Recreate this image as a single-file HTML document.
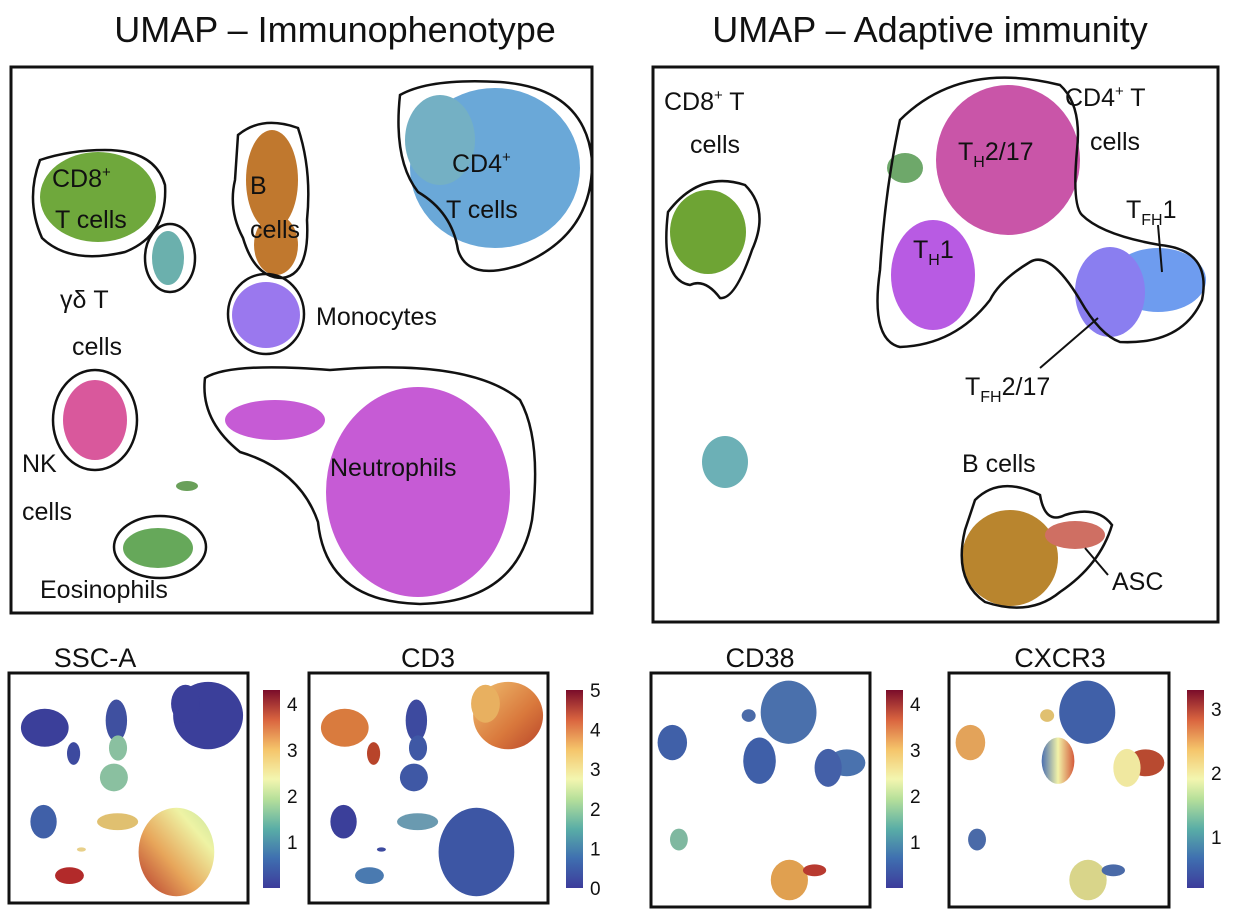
<!DOCTYPE html>
<html><head><meta charset="utf-8"><style>
body{margin:0;background:#fff;width:1246px;height:918px;overflow:hidden;font-family:"Liberation Sans",sans-serif}
svg text{font-family:"Liberation Sans",sans-serif;fill:#111}
</style></head><body>
<svg id="fig" width="1246" height="918" viewBox="0 0 1246 918">
<defs>
<linearGradient id="spec" x1="0" y1="1" x2="0" y2="0">
<stop offset="0" stop-color="#3d3c9b"/><stop offset="0.15" stop-color="#3f6fb0"/><stop offset="0.3" stop-color="#5aaea6"/>
<stop offset="0.45" stop-color="#b7e09a"/><stop offset="0.55" stop-color="#f3f6b0"/><stop offset="0.7" stop-color="#f5c46a"/>
<stop offset="0.85" stop-color="#d9643f"/><stop offset="1" stop-color="#7a0d2a"/></linearGradient>
<linearGradient id="neuSSC" x1="0" y1="1" x2="1" y2="0"><stop offset="0" stop-color="#b4362c"/><stop offset="0.4" stop-color="#e7a55a"/><stop offset="0.75" stop-color="#eef3a4"/><stop offset="1" stop-color="#c5e29c"/></linearGradient>
<linearGradient id="cd4CD3" x1="0" y1="0" x2="1" y2="1"><stop offset="0" stop-color="#f0c070"/><stop offset="0.6" stop-color="#d9783c"/><stop offset="1" stop-color="#b8442a"/></linearGradient>
<linearGradient id="cxcrG" x1="0" y1="0" x2="1" y2="0"><stop offset="0" stop-color="#4b6fb0"/><stop offset="0.5" stop-color="#f2f2a8"/><stop offset="1" stop-color="#d45a3a"/></linearGradient>
</defs>

<text x="335" y="42" font-size="36" text-anchor="middle">UMAP – Immunophenotype</text>
<text x="930" y="42" font-size="36" text-anchor="middle">UMAP – Adaptive immunity</text>

<rect x="11" y="67" width="581" height="546" fill="#fff" stroke="#111" stroke-width="3"/>
<rect x="653" y="67" width="565" height="555" fill="#fff" stroke="#111" stroke-width="3"/>

<g id="bottom">
<rect x="9" y="673" width="239" height="230" fill="#fff" stroke="#111" stroke-width="3"/>
<rect x="309" y="673" width="239" height="230" fill="#fff" stroke="#111" stroke-width="3"/>
<rect x="651" y="673" width="219" height="234" fill="#fff" stroke="#111" stroke-width="3"/>
<rect x="949" y="673" width="220" height="234" fill="#fff" stroke="#111" stroke-width="3"/>
<text x="95" y="667" font-size="27" text-anchor="middle">SSC-A</text>
<text x="428" y="667" font-size="27" text-anchor="middle">CD3</text>
<text x="760" y="667" font-size="27" text-anchor="middle">CD38</text>
<text x="1060" y="667" font-size="27" text-anchor="middle">CXCR3</text>
</g>

<g id="dots"></g>

<g id="outlines" fill="none" stroke="#111" stroke-width="2.5">
<path d="M40 160 Q70 150 105 150 Q155 150 165 185 Q168 235 125 252 Q70 265 42 238 Q25 200 40 160Z"/>
<ellipse cx="170" cy="258" rx="25" ry="34"/>
<path d="M238 135 Q262 115 298 128 Q312 170 307 220 Q310 275 282 278 Q255 278 243 238 Q228 210 235 180Z"/>
<ellipse cx="266" cy="314" rx="38" ry="40"/>
<path d="M400 95 Q430 78 500 82 Q585 88 592 160 Q594 235 520 265 Q468 282 458 250 Q452 212 418 192 Q393 160 400 95Z"/>
<ellipse cx="95" cy="420" rx="42" ry="50"/>
<path d="M205 378 Q230 362 330 370 Q470 358 520 400 Q542 440 532 520 Q517 602 420 604 Q326 602 318 522 Q300 470 240 452 Q200 420 205 378Z"/>
<ellipse cx="160" cy="547" rx="46" ry="31"/>
<path d="M668 212 Q700 170 745 185 Q770 210 752 250 Q735 300 720 298 Q705 278 690 285 Q660 280 668 212Z"/>
<path d="M900 120 Q960 60 1060 85 Q1082 105 1077 150 Q1072 205 1082 215 Q1102 235 1160 245 Q1212 250 1202 300 Q1182 345 1120 342 Q1100 335 1080 300 Q1050 250 1030 262 Q1000 280 990 300 Q955 345 900 347 Q870 340 880 270 Q885 190 900 120Z"/>
<path d="M975 500 Q1000 475 1040 495 Q1045 525 1065 515 Q1097 505 1112 525 Q1100 565 1060 592 Q1030 617 985 602 Q953 580 965 530Z"/>
</g>

<g id="labels" font-size="25">
<text x="52" y="187">CD8<tspan font-size="15" dy="-10">+</tspan></text>
<text x="55" y="228">T cells</text>
<text x="60" y="308">γδ T</text>
<text x="72" y="355">cells</text>
<text x="250" y="194">B</text>
<text x="250" y="238">cells</text>
<text x="316" y="325">Monocytes</text>
<text x="452" y="172">CD4<tspan font-size="15" dy="-10">+</tspan></text>
<text x="446" y="218">T cells</text>
<text x="22" y="472">NK</text>
<text x="22" y="520">cells</text>
<text x="330" y="476">Neutrophils</text>
<text x="40" y="598">Eosinophils</text>
<text x="664" y="110">CD8<tspan font-size="15" dy="-10">+</tspan><tspan dy="10"> T</tspan></text>
<text x="690" y="153">cells</text>
<text x="1065" y="106">CD4<tspan font-size="15" dy="-10">+</tspan><tspan dy="10"> T</tspan></text>
<text x="1090" y="150">cells</text>
<text x="958" y="160">T<tspan font-size="16" dy="7">H</tspan><tspan dy="-7">2/17</tspan></text>
<text x="913" y="258">T<tspan font-size="16" dy="7">H</tspan><tspan dy="-7">1</tspan></text>
<text x="1126" y="218">T<tspan font-size="16" dy="7">FH</tspan><tspan dy="-7">1</tspan></text>
<text x="965" y="395">T<tspan font-size="16" dy="7">FH</tspan><tspan dy="-7">2/17</tspan></text>
<text x="962" y="472">B cells</text>
<text x="1112" y="590">ASC</text>
<path d="M1158 225 L1162 272 M1040 368 L1098 318 M1085 548 L1108 575" stroke="#111" stroke-width="2" fill="none"/>
</g>
<g id="bars"></g>
</svg>
<script>
// cluster shapes (components) in panel coordinates and feature-panel palettes
const leftClusters = ["cd8","gd","b","b2","mono","cd4","cd4b","nk","neu","neuTail","eos","small"];
const leftCx = [98,168,272,276,266,495,440,95,418,275,158,187];
const leftCy = [197,258,180,245,315,168,140,420,492,420,548,486];
const leftRx = [58,16,26,22,34,85,35,32,92,50,35,11];
const leftRy = [45,27,50,30,33,80,45,40,105,20,20,5];
const leftColor = ["#6fa83c","#6bb0ad","#c0782e","#c0782e","#9a78ee","#6aa8d8","#74b0c4","#d9589c","#c65bd5","#c65bd5","#66a85a","#6aa05a"];
const sscColor = ["#3b3f9a","#3d4a9f","#3f50a0","#8ac0a0","#8ac0a0","#3b3f9a","#3b3f9a","#4060a8","url(#neuSSC)","#e0c070","#b22a2a","#e8d08a"];
const cd3Color = ["#d97b3e","#b8442a","#3d4a9f","#3f58a5","#3f58a5","url(#cd4CD3)","#e8b060","#3b3f9a","#3d56a4","#6a9ab0","#4a7ab0","#3d4a9f"];
const rightClusters = ["cd8","teal","th217","th1","tfh1","tfh217","bcell","asc","small"];
const rightCx = [708,725,1008,933,1158,1110,1010,1075,905];
const rightCy = [232,462,160,275,280,292,558,535,168];
const rightRx = [38,23,72,42,48,35,48,30,18];
const rightRy = [42,26,75,55,32,45,48,14,15];
const rightColor = ["#6ea434","#6cb0b6","#c955a8","#b85be3","#6e9cef","#8a7ef0","#b9852e","#cf6f63","#6ea86a"];
const cd38Color = ["#4060a8","#7fb8a0","#4a70ac","#3f5fa8","#4a72ae","#4460a8","#e0a050","#b83a30","#4a6aa8"];
const cxcr3Color = ["#e3a35a","#4a6aa8","#4060a8","url(#cxcrG)","#b84a30","#f0e8a0","#d9d58a","#4a6aa8","#e0c070"];
// colorbar ticks
const sscTicks=[1,2,3,4], sscMax=4.3, sscMin=0;
const cd3Ticks=[0,1,2,3,4,5], cd3Max=5, cd3Min=0;
const cd38Ticks=[1,2,3,4], cd38Max=4.3, cd38Min=0;
const cxTicks=[1,2,3], cxMax=3.3, cxMin=0.2;

const NS="http://www.w3.org/2000/svg";
const dots=document.getElementById('dots');
function drawSet(cx,cy,rx,ry,colors,x0,y0,sx,sy,ox,oy,name){
  for(let i=0;i<cx.length;i++){
    const e=document.createElementNS(NS,'ellipse');
    e.setAttribute('cx',ox+(cx[i]-x0)*sx);
    e.setAttribute('cy',oy+(cy[i]-y0)*sy);
    e.setAttribute('rx',rx[i]*sx);
    e.setAttribute('ry',ry[i]*sy);
    e.setAttribute('fill',colors[i]);
    
    
    dots.appendChild(e);
  }
}
drawSet(leftCx,leftCy,leftRx,leftRy,leftColor,0,0,1,1,0,0,'immuno');
drawSet(rightCx,rightCy,rightRx,rightRy,rightColor,0,0,1,1,0,0,'adaptive');
drawSet(leftCx,leftCy,leftRx,leftRy,sscColor,11,67,239/581,230/546,9,673,'ssc');
drawSet(leftCx,leftCy,leftRx,leftRy,cd3Color,11,67,239/581,230/546,309,673,'cd3');
drawSet(rightCx,rightCy,rightRx,rightRy,cd38Color,653,67,219/565,234/555,651,673,'cd38');
drawSet(rightCx,rightCy,rightRx,rightRy,cxcr3Color,653,67,220/565,234/555,949,673,'cxcr3');

const bars=document.getElementById('bars');
function colorbar(x,ticks,mn,mx,name){
  const top=690,bot=888;
  const r=document.createElementNS(NS,'rect');
  r.setAttribute('x',x);r.setAttribute('y',top);r.setAttribute('width',17);r.setAttribute('height',bot-top);
  r.setAttribute('fill','url(#spec)');
  
  
  bars.appendChild(r);
  ticks.forEach(t=>{
    const y=bot-(t-mn)/(mx-mn)*(bot-top);
    const tx=document.createElementNS(NS,'text');
    tx.setAttribute('x',x+24);tx.setAttribute('y',y+7);tx.setAttribute('font-size','19');
    tx.textContent=t;
    
    
    bars.appendChild(tx);
  });
}
colorbar(263,sscTicks,sscMin,sscMax,'ssc');
colorbar(566,cd3Ticks,cd3Min,cd3Max,'cd3');
colorbar(886,cd38Ticks,cd38Min,cd38Max,'cd38');
colorbar(1187,cxTicks,cxMin,cxMax,'cxcr3');
</script>
</body></html>
